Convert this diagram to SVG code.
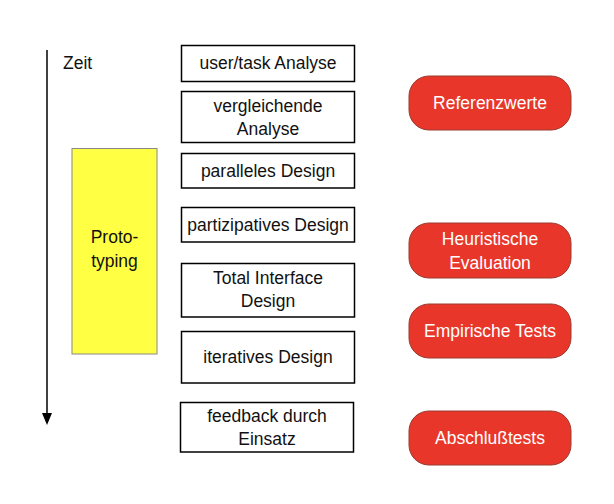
<svg xmlns="http://www.w3.org/2000/svg" width="614" height="504" viewBox="0 0 614 504">
<style>
text{font-family:"Liberation Sans",Arial,sans-serif;font-size:17.5px;text-anchor:middle;}
.box{fill:#fff;stroke:#000;stroke-width:1.5;}
.dark{fill:#111;}
.red{fill:#E8372A;stroke:#9a3a30;stroke-width:1;}
.wt{fill:#fff;}
</style>
<defs>
<marker id="ah" markerWidth="10" markerHeight="12" refX="5" refY="12" orient="auto-start-reverse" markerUnits="userSpaceOnUse" viewBox="0 0 10 12">
<path d="M0,0 L10,0 L5,12 Z" fill="#000"/>
</marker>
</defs>
<rect width="614" height="504" fill="#fff"/>
<g id="connectors">
<line x1="47" y1="50" x2="47" y2="414" stroke="#000" stroke-width="1.5"/>
<path d="M42,413 L52,413 L47,425 Z" fill="#000"/>
</g>
<g id="zeit"><text x="63" y="69" class="dark" style="text-anchor:start">Zeit</text></g>
<g id="prototyping">
<rect x="72" y="148.5" width="85" height="205.5" fill="#FFFF44" stroke="#888" stroke-width="1"/>
<text x="114.5" y="243" class="dark">Proto-</text>
<text x="114.5" y="267" class="dark">typing</text>
</g>
<g id="n1"><rect class="box" x="181.5" y="45.5" width="173" height="36"/><text x="268" y="69" class="dark">user/task Analyse</text></g>
<g id="n2"><rect class="box" x="181.5" y="91.5" width="173" height="51"/><text x="268" y="111.5" class="dark">vergleichende</text><text x="268" y="135" class="dark">Analyse</text></g>
<g id="n3"><rect class="box" x="181.5" y="153.5" width="173" height="34.5"/><text x="268" y="176.5" class="dark">paralleles Design</text></g>
<g id="n4"><rect class="box" x="181.5" y="207.5" width="173" height="34.5"/><text x="268" y="230.5" class="dark">partizipatives Design</text></g>
<g id="n5"><rect class="box" x="181.5" y="263.5" width="173" height="53.5"/><text x="268" y="283.5" class="dark">Total Interface</text><text x="268" y="307" class="dark">Design</text></g>
<g id="n6"><rect class="box" x="181.5" y="331.5" width="173" height="51.5"/><text x="268" y="363" class="dark">iteratives Design</text></g>
<g id="n7"><rect class="box" x="180.5" y="402.5" width="173" height="49.5"/><text x="267" y="421.5" class="dark">feedback durch</text><text x="267" y="445" class="dark">Einsatz</text></g>
<g id="r1"><rect class="red" x="409" y="76" width="162" height="54" rx="20"/><text x="490" y="109" class="wt">Referenzwerte</text></g>
<g id="r2"><rect class="red" x="409" y="223" width="162" height="55" rx="20"/><text x="490" y="245" class="wt">Heuristische</text><text x="490" y="268.5" class="wt">Evaluation</text></g>
<g id="r3"><rect class="red" x="409" y="304" width="162" height="54" rx="20"/><text x="490" y="337" class="wt">Empirische Tests</text></g>
<g id="r4"><rect class="red" x="409" y="411" width="162" height="54" rx="20"/><text x="490" y="444" class="wt">Abschlußtests</text></g>
</svg>
